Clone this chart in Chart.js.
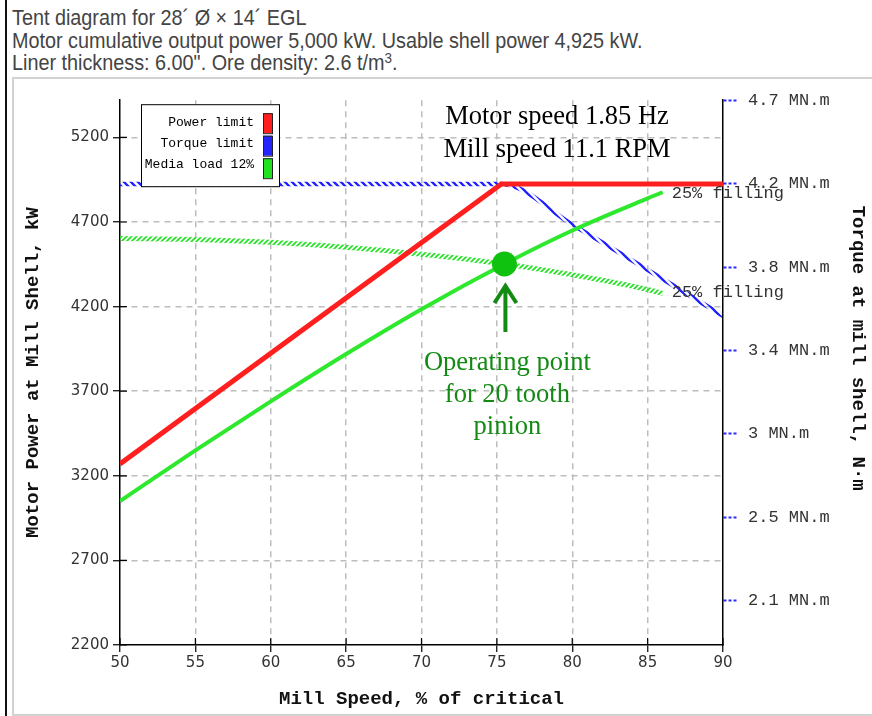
<!DOCTYPE html>
<html>
<head>
<meta charset="utf-8">
<script src="https://cdn.jsdelivr.net/npm/chart.js@4.4.1/dist/chart.umd.min.js"></script>
<style>
  html, body { margin: 0; padding: 0; background: #fff; }
  body { width: 872px; height: 716px; position: relative; overflow: hidden; }
  #rule { position: absolute; left: 5px; top: 0; width: 1.5px; height: 716px; background: #111; }
  #head {
    position: absolute; left: 12px; top: 7px;
    font: 22px "Liberation Sans", Arial, sans-serif; line-height: 22.7px; color: #444;
    transform: scaleX(0.9); transform-origin: 0 0; white-space: nowrap;
  }
  #head sup { font-size: 0.68em; line-height: 0; vertical-align: baseline; position: relative; top: -0.5em; }
  #panel { position: absolute; left: 12px; top: 77px; width: 900px; height: 635px; border: 2px solid #d2d2d2; }
  #chart { position: absolute; left: 14px; top: 79px; }
</style>
</head>
<body>
<div id="rule"></div>
<div id="head">
  <div>Tent diagram for 28´ Ø × 14´ EGL</div>
  <div>Motor cumulative output power 5,000 kW. Usable shell power 4,925 kW.</div>
  <div>Liner thickness: 6.00". Ore density: 2.6 t/m<sup>3</sup>.</div>
</div>
<div id="panel"></div>
<canvas id="chart" width="858" height="635"></canvas>
<script>
// Mill speed, % of critical
const speedTicks = [50, 55, 60, 65, 70, 75, 80, 85, 90];
// Motor power at mill shell, kW
const powerTicks = [2200, 2700, 3200, 3700, 4200, 4700, 5200];
// Torque at mill shell, MN·m
const torqueTicks = [2.12, 2.54, 2.97, 3.39, 3.81, 4.24, 4.66];

// Power limit (motor), kW
const powerLimitSpeed = [50, 75.3, 90];
const powerLimitKW = [3270, 4925, 4925];

// Torque limit, MN·m
const torqueLimitSpeed = [50, 75.3, 80, 85, 90];
const torqueLimitMNm = [4.237, 4.237, 4.03, 3.80, 3.566];

// Media load 12% up to 25% filling
const mediaSpeed = [50, 55, 60, 65, 70, 75.5, 80, 85, 86];
const mediaPowerKW = [3050, 3350, 3640, 3920, 4185, 4452, 4650, 4840, 4876];
const mediaTorqueMNm = [3.96, 3.955, 3.94, 3.915, 3.88, 3.83, 3.775, 3.70, 3.68];

// Operating point for 20 tooth pinion
const opSpeed = [75.5];
const opPowerKW = [4452];

const legendLabels = ['Power limit', 'Torque limit', 'Media load 12%'];
const legendColors = ['#ff1f1f', '#2424ff', '#22e022'];
const fillingLabel = '25% filling';
const speedNote = ['Motor speed 1.85 Hz', 'Mill speed 11.1 RPM'];
const opNote = ['Operating point', 'for 20 tooth', 'pinion'];

// kW per MN·m at 11.1 rpm (2π·11.1/60 rad/s × 1000)
const KW_PER_MNM = 1162.4;
const POWER_MIN = 2200, POWER_MAX = 5420;

const pts = (xs, ys) => xs.map((x, i) => ({ x, y: ys[i] }));

const canvas = document.getElementById('chart');
const ctx0 = canvas.getContext('2d');

// diagonal hatch used to stroke the torque curves
function hatch(color, size, width, back) {
  const t = document.createElement('canvas');
  t.width = t.height = size;
  const g = t.getContext('2d');
  g.strokeStyle = color; g.lineWidth = width;
  g.beginPath();
  if (back) {
    g.moveTo(-1, -1); g.lineTo(size + 1, size + 1);
    g.moveTo(-1, size - 1); g.lineTo(1, size + 1);
    g.moveTo(size - 1, -1); g.lineTo(size + 1, 1);
  } else {
    g.moveTo(-1, size + 1); g.lineTo(size + 1, -1);
    g.moveTo(-1, 1); g.lineTo(1, -1);
    g.moveTo(size - 1, size + 1); g.lineTo(size + 1, size - 1);
  }
  g.stroke();
  return ctx0.createPattern(t, 'repeat');
}

const tickFont = { family: 'DejaVu Sans', size: 15 };
const titleFont = { family: 'Liberation Mono', size: 19, weight: 'bold' };
const gridCol = '#bdbdbd';

const overlay = {
  id: 'overlay',
  afterDraw(chart) {
    const { ctx, chartArea: a, scales: { x, y } } = chart;
    ctx.save();

    // inner halves of the axis tick marks
    ctx.strokeStyle = '#000'; ctx.lineWidth = 1.2;
    ctx.beginPath();
    powerTicks.forEach(v => { const py = y.getPixelForValue(v); ctx.moveTo(a.left, py); ctx.lineTo(a.left + 7, py); });
    speedTicks.forEach(v => { const px = x.getPixelForValue(v); ctx.moveTo(px, a.bottom); ctx.lineTo(px, a.bottom - 7); });
    ctx.stroke();

    // legend
    const lx = a.left + 21, ly = a.top + 4, lw = 138, lh = 82;
    ctx.fillStyle = '#fff'; ctx.fillRect(lx, ly, lw, lh);
    ctx.strokeStyle = '#000'; ctx.lineWidth = 1; ctx.strokeRect(lx + 0.5, ly + 0.5, lw, lh);
    ctx.font = '13px "Liberation Mono"'; ctx.textAlign = 'right'; ctx.textBaseline = 'middle';
    legendLabels.forEach((t, i) => {
      ctx.fillStyle = '#000';
      ctx.fillText(t, lx + 113, ly + 18 + i * 21);
      ctx.fillStyle = legendColors[i];
      ctx.fillRect(lx + 122, ly + 9 + i * 22.5, 9, 20);
      ctx.strokeStyle = '#222'; ctx.strokeRect(lx + 122.5, ly + 9.5 + i * 22.5, 9, 20);
    });

    // "25% filling" at the end of both media curves
    const y2 = chart.scales.y2;
    const last = mediaSpeed.length - 1;
    ctx.font = '17px "Liberation Mono"'; ctx.fillStyle = '#333'; ctx.textAlign = 'left'; ctx.textBaseline = 'middle';
    const ex = x.getPixelForValue(mediaSpeed[last]) + 9;
    ctx.fillText(fillingLabel, ex, y.getPixelForValue(mediaPowerKW[last]) + 1);
    ctx.fillText(fillingLabel, ex, y2.getPixelForValue(mediaTorqueMNm[last]) - 1);

    // drive speed note
    ctx.font = '26.5px "Liberation Serif"'; ctx.fillStyle = '#000'; ctx.textAlign = 'center'; ctx.textBaseline = 'alphabetic';
    ctx.fillText(speedNote[0], a.left + 437, a.top + 24);
    ctx.fillText(speedNote[1], a.left + 437, a.top + 57);

    // operating point callout
    const ox = x.getPixelForValue(opSpeed[0]), oy = y.getPixelForValue(opPowerKW[0]);
    const dk = '#138a13';
    ctx.strokeStyle = dk; ctx.lineWidth = 4; ctx.lineCap = 'butt';
    ctx.beginPath();
    ctx.moveTo(ox + 1, oy + 68); ctx.lineTo(ox + 1, oy + 23);
    ctx.moveTo(ox - 10, oy + 39); ctx.lineTo(ox + 1, oy + 22); ctx.lineTo(ox + 12, oy + 39);
    ctx.stroke();
    ctx.fillStyle = dk;
    opNote.forEach((t, i) => ctx.fillText(t, ox + 3, oy + 106 + i * 32));

    // right axis title
    ctx.save();
    ctx.translate(a.right + 135, a.top + 248);
    ctx.rotate(Math.PI / 2);
    ctx.font = 'bold 19px "Liberation Mono"'; ctx.fillStyle = '#111'; ctx.textAlign = 'center'; ctx.textBaseline = 'middle';
    ctx.fillText('Torque at mill shell, N·m', 0, 0);
    ctx.restore();

    ctx.restore();
  }
};

new Chart(canvas, {
  type: 'line',
  data: {
    datasets: [
      { label: 'Operating point', data: pts(opSpeed, opPowerKW), yAxisID: 'y', showLine: false,
        pointRadius: 12.5, pointBackgroundColor: '#10c210', pointBorderWidth: 0, order: 0 },
      { label: legendLabels[2], data: pts(mediaSpeed, mediaPowerKW), yAxisID: 'y',
        borderColor: '#2ee82e', borderWidth: 4, pointRadius: 0, cubicInterpolationMode: 'monotone', order: 1 },
      { label: legendLabels[0], data: pts(powerLimitSpeed, powerLimitKW), yAxisID: 'y',
        borderColor: '#ff1f1f', borderWidth: 5, pointRadius: 0, order: 2 },
      { label: legendLabels[2] + ' torque', data: pts(mediaSpeed, mediaTorqueMNm), yAxisID: 'y2',
        borderColor: hatch('#2ee02e', 5, 1.9, false), borderWidth: 5, pointRadius: 0,
        cubicInterpolationMode: 'monotone', order: 3 },
      { label: legendLabels[1], data: pts(torqueLimitSpeed, torqueLimitMNm), yAxisID: 'y2',
        borderColor: hatch('#2020ff', 7, 2.3, true), borderWidth: 4.5, pointRadius: 0,
        cubicInterpolationMode: 'monotone', order: 4 }
    ]
  },
  options: {
    responsive: false,
    animation: false,
    devicePixelRatio: 1,
    events: [],
    layout: { padding: { top: 17, left: 0, right: 0, bottom: 0 } },
    plugins: { legend: { display: false }, tooltip: { enabled: false } },
    scales: {
      x: {
        type: 'linear', min: speedTicks[0], max: speedTicks[speedTicks.length - 1],
        afterBuildTicks: s => { s.ticks = speedTicks.map(v => ({ value: v })); },
        afterFit: s => { s.height = 69; },
        ticks: { font: tickFont, color: '#333', padding: 2, maxRotation: 0, autoSkip: false, callback: v => String(v) },
        grid: {
          color: c => (c.tick && (c.tick.value === 50 || c.tick.value === 90)) ? 'rgba(0,0,0,0)' : gridCol,
          lineWidth: 1.5, tickColor: '#000', tickLength: 7, tickWidth: 1.2, tickBorderDash: []
        },
        border: { color: '#000', width: 1.5, dash: [6, 5] },
        title: { display: true, text: 'Mill Speed, % of critical', font: titleFont, color: '#111', padding: { top: 0, bottom: 3 } }
      },
      y: {
        type: 'linear', position: 'left', min: POWER_MIN, max: POWER_MAX,
        afterBuildTicks: s => { s.ticks = powerTicks.map(v => ({ value: v })); },
        afterFit: s => { s.width = 106; },
        ticks: { font: tickFont, color: '#333', padding: 4, autoSkip: false, callback: v => String(v) },
        grid: {
          color: c => (c.tick && c.tick.value === POWER_MIN) ? 'rgba(0,0,0,0)' : gridCol,
          lineWidth: 1.5, tickColor: '#000', tickLength: 7, tickWidth: 1.2, tickBorderDash: []
        },
        border: { color: '#000', width: 1.5, dash: [6, 5] },
        title: { display: true, text: 'Motor Power at Mill Shell, kW', font: titleFont, color: '#111', padding: { top: 8, bottom: 0 } }
      },
      y2: {
        type: 'linear', position: 'right', min: POWER_MIN / KW_PER_MNM, max: POWER_MAX / KW_PER_MNM,
        afterBuildTicks: s => { s.ticks = torqueTicks.map(v => ({ value: v })); },
        afterFit: s => { s.width = 149; },
        ticks: { font: { family: 'Liberation Mono', size: 17 }, color: '#333', padding: 11, autoSkip: false,
                 callback: v => `${+v.toFixed(1)} MN.m` },
        grid: { drawOnChartArea: false, tickColor: '#2a2aff', tickLength: 14, tickWidth: 2, tickBorderDash: [3, 2] },
        border: { color: '#000', width: 1.5 }
      }
    }
  },
  plugins: [overlay]
});
</script>
</body>
</html>
